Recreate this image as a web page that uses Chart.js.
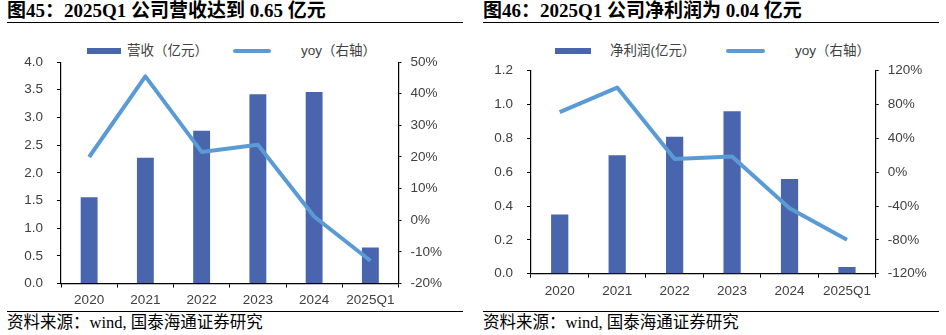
<!DOCTYPE html>
<html>
<head>
<meta charset="utf-8">
<script src="https://cdn.jsdelivr.net/npm/chart.js@4/dist/chart.umd.min.js"></script>
<style>
  body { margin: 0; background: #fff; }
  #page { position: relative; width: 946px; height: 335px; overflow: hidden; }
  .title {
    position: absolute; top: 0; height: 22px; width: 456px;
    border-bottom: 1.5px solid #000;
    font: bold 19px "Liberation Serif", "Noto Sans CJK SC", serif;
    color: #000; white-space: nowrap; line-height: 22px;
  }
  .source {
    position: absolute; top: 311px; width: 456px;
    border-top: 1.5px solid #000;
    font: 16.5px "Liberation Serif", "Noto Sans CJK SC", serif;
    color: #000; white-space: nowrap; line-height: 22px;
  }
  .legend { position: absolute; top: 41px; height: 20px; font: 13.5px "Liberation Sans", "Noto Sans CJK SC", sans-serif; color: #404040; }
  .legend span { position: absolute; top: 0; line-height: 20px; white-space: nowrap; }
  .legend i { position: absolute; display: block; }
  canvas { position: absolute; }
</style>
</head>
<body>
<div id="page">
  <div class="title" style="left:7px">图45：2025Q1 公司营收达到 0.65 亿元</div>
  <div class="title" style="left:483px">图46：2025Q1 公司净利润为 0.04 亿元</div>

  <div class="legend" id="legendRev" style="left:0"></div>
  <div class="legend" id="legendProfit" style="left:470px"></div>

  <div style="position:absolute;left:0;top:40px;width:470px;height:270px"><canvas id="revChart"></canvas></div>
  <div style="position:absolute;left:470px;top:40px;width:476px;height:260px"><canvas id="profitChart"></canvas></div>

  <div class="source" style="left:7px">资料来源：wind, 国泰海通证券研究</div>
  <div class="source" style="left:483px">资料来源：wind, 国泰海通证券研究</div>
</div>

<script>
const years = ["2020", "2021", "2022", "2023", "2024", "2025Q1"];

// 营收（亿元）及同比
const revenue = [1.56, 2.27, 2.76, 3.42, 3.46, 0.65];
const revenueYoy = [20.0, 45.5, 21.6, 23.9, 1.2, -12.8];
const revTicks = { min: 0, max: 4, step: 0.5 };
const revYoyTicks = { min: -20, max: 50, step: 10 };

// 净利润（亿元）及同比
const profit = [0.35, 0.70, 0.81, 0.96, 0.56, 0.04];
const profitYoy = [71, 100, 15.7, 18.5, -42.5, -80];
const profitTicks = { min: 0, max: 1.2, step: 0.2 };
const profitYoyTicks = { min: -120, max: 120, step: 40 };

const BAR_COLOR = "#4865ad";
const LINE_COLOR = "#5b9bd5";
const TICK_FONT = { family: "'Liberation Sans', Arial, sans-serif", size: 13.5 };

function buildLegend(id, items) {
  const el = document.getElementById(id);
  items.forEach((it) => {
    const sw = document.createElement("i");
    sw.style.left = it.x + "px";
    sw.style.width = it.w + "px";
    sw.style.height = it.h + "px";
    sw.style.top = 10 - it.h / 2 + "px";
    sw.style.background = it.color;
    if (it.round) sw.style.borderRadius = "2px";
    el.appendChild(sw);
    const txt = document.createElement("span");
    txt.style.left = it.tx + "px";
    txt.textContent = it.label;
    el.appendChild(txt);
  });
}

function makeChart(canvasId, cfg) {
  const fixWidth = (w) => (scale) => { scale.width = w; };
  return new Chart(document.getElementById(canvasId), {
    data: {
      labels: years,
      datasets: [
        {
          type: "line",
          label: cfg.lineLabel,
          data: cfg.yoy,
          yAxisID: "y1",
          borderColor: LINE_COLOR,
          borderWidth: 4,
          borderJoinStyle: "round",
          pointRadius: 0,
          tension: 0,
          order: 0,
        },
        {
          type: "bar",
          label: cfg.barLabel,
          data: cfg.values,
          yAxisID: "y",
          backgroundColor: BAR_COLOR,
          categoryPercentage: 1,
          barPercentage: 0.3,
          order: 1,
        },
      ],
    },
    options: {
      responsive: true,
      maintainAspectRatio: false,
      animation: false,
      layout: { padding: { top: cfg.padTop, left: 0, right: 0, bottom: 0 } },
      plugins: { legend: { display: false }, tooltip: { enabled: false } },
      scales: {
        x: {
          afterFit: (scale) => { scale.height = cfg.xHeight; },
          grid: { drawOnChartArea: false, color: "#000", tickLength: 4, offset: true },
          border: { color: "#000", width: 1.2 },
          ticks: { color: "#404040", font: TICK_FONT, padding: 5, maxRotation: 0 },
        },
        y: {
          position: "left",
          min: cfg.leftTicks.min,
          max: cfg.leftTicks.max,
          afterFit: fixWidth(61),
          grid: { drawOnChartArea: false, color: "#000", tickLength: 4 },
          border: { color: "#000", width: 1.2 },
          ticks: {
            stepSize: cfg.leftTicks.step,
            color: "#404040",
            font: TICK_FONT,
            padding: 14,
            callback: (v) => v.toFixed(1),
          },
        },
        y1: {
          position: "right",
          min: cfg.rightTicks.min,
          max: cfg.rightTicks.max,
          afterFit: fixWidth(cfg.rightWidth),
          grid: { drawOnChartArea: false, color: "#000", tickLength: 3 },
          border: { color: "#000", width: 1.2 },
          ticks: {
            stepSize: cfg.rightTicks.step,
            color: "#404040",
            font: TICK_FONT,
            padding: 9,
            callback: (v) => v + "%",
          },
        },
      },
    },
  });
}

makeChart("revChart", {
  values: revenue,
  yoy: revenueYoy,
  barLabel: "营收（亿元）",
  lineLabel: "yoy（右轴）",
  leftTicks: revTicks,
  rightTicks: revYoyTicks,
  padTop: 20,
  xHeight: 26.5,
  rightWidth: 71.5,
});

makeChart("profitChart", {
  values: profit,
  yoy: profitYoy,
  barLabel: "净利润(亿元）",
  lineLabel: "yoy（右轴）",
  leftTicks: profitTicks,
  rightTicks: profitYoyTicks,
  padTop: 30.7,
  xHeight: 26.3,
  rightWidth: 70.3,
});

buildLegend("legendRev", [
  { x: 87, w: 34, h: 6, color: BAR_COLOR, tx: 127, label: "营收（亿元）" },
  { x: 233, w: 38, h: 4, color: LINE_COLOR, round: true, tx: 301, label: "yoy（右轴）" },
]);
buildLegend("legendProfit", [
  { x: 85, w: 36, h: 6, color: BAR_COLOR, tx: 140, label: "净利润(亿元）" },
  { x: 256, w: 39, h: 4, color: LINE_COLOR, round: true, tx: 325, label: "yoy（右轴）" },
]);
</script>
</body>
</html>
